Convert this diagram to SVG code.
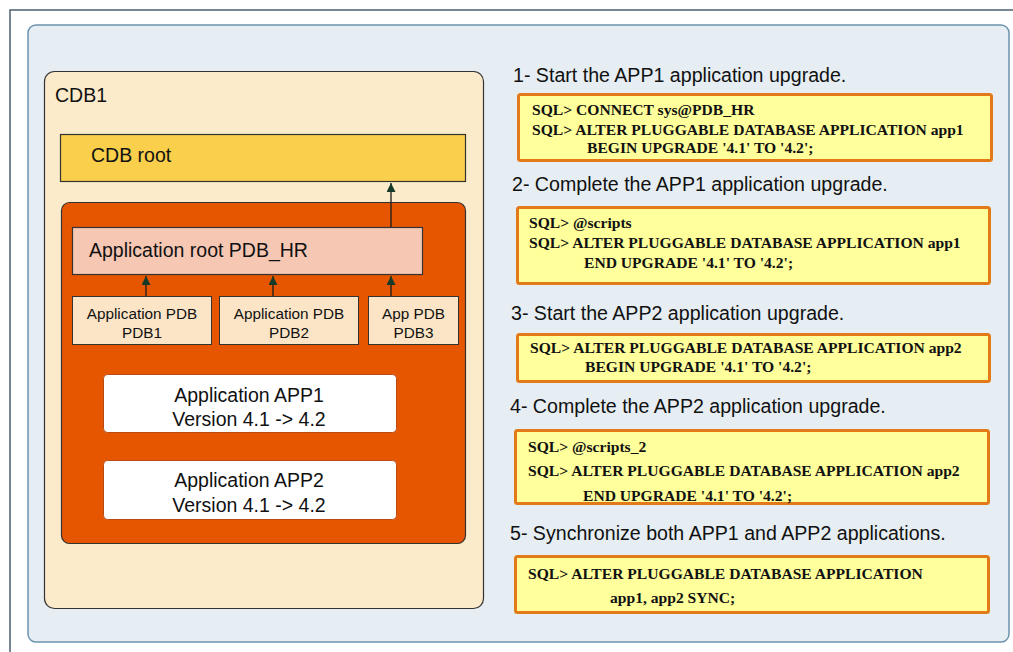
<svg xmlns="http://www.w3.org/2000/svg" width="1013" height="652" viewBox="0 0 1013 652">
<defs>
<style>
.sans{font-family:"Liberation Sans",Arial,sans-serif;fill:#111}
.t19{font-size:19.5px}
.t15{font-size:15.3px}
.step{font-family:"Liberation Sans",Arial,sans-serif;font-size:19.6px;fill:#111}
.sql{font-family:"Liberation Serif","Times New Roman",serif;font-size:15.6px;font-weight:bold;fill:#111}
.sqlbox{fill:#ffff9c;stroke:#e27b17;stroke-width:3}
.pdb{fill:#fbe5c6;stroke:#333;stroke-width:1}
.app{fill:#fff;stroke:#b94a12;stroke-width:1}
.conn{stroke:#1b1b1b;stroke-width:1.3;fill:none}
</style>
<marker id="ah" viewBox="0 0 10 10" refX="10" refY="5" markerWidth="9" markerHeight="9" markerUnits="userSpaceOnUse" orient="auto">
<path d="M0,0 L10,5 L0,10 z" fill="#163a2a"/>
</marker>
</defs>
<rect width="1013" height="652" fill="#fff"/>
<path d="M10,652 L10,10 L1013,10" fill="none" stroke="#4b5f6e" stroke-width="1.5"/>
<rect id="panel" x="28" y="25" width="981" height="617" rx="8" fill="#e6eef3" stroke="#6c93ad" stroke-width="1.5"/>
<g id="cdb1">
<rect x="44.5" y="71.5" width="439" height="537" rx="10" fill="#fbebca" stroke="#333" stroke-width="1.2"/>
<text class="sans t19" x="55" y="102">CDB1</text>
</g>
<g id="cdbroot">
<rect x="60.5" y="134.5" width="405" height="47" fill="#f9cf4b" stroke="#333" stroke-width="1.2"/>
<text class="sans t19" x="91" y="162">CDB root</text>
</g>
<g id="appcontainer">
<rect x="61.5" y="202.5" width="404" height="341" rx="8" fill="#e65600" stroke="#333" stroke-width="1.2"/>
</g>
<g id="approot">
<rect x="72.5" y="227.5" width="350" height="47" fill="#f6c7b3" stroke="#333" stroke-width="1.2"/>
<text class="sans t19" x="89" y="257">Application root PDB_HR</text>
</g>
<g id="pdb1">
<rect class="pdb" x="72.5" y="296.5" width="139" height="48"/>
<text class="sans t15" text-anchor="middle" x="142" y="319">Application PDB</text>
<text class="sans t15" text-anchor="middle" x="142" y="338">PDB1</text>
</g>
<g id="pdb2">
<rect class="pdb" x="219.5" y="296.5" width="139" height="48"/>
<text class="sans t15" text-anchor="middle" x="289" y="319">Application PDB</text>
<text class="sans t15" text-anchor="middle" x="289" y="338">PDB2</text>
</g>
<g id="pdb3">
<rect class="pdb" x="368.5" y="296.5" width="90" height="48"/>
<text class="sans t15" text-anchor="middle" x="413.5" y="319">App PDB</text>
<text class="sans t15" text-anchor="middle" x="413.5" y="338">PDB3</text>
</g>
<g id="app1">
<rect class="app" x="103.5" y="374.5" width="293" height="58" rx="4"/>
<text class="sans t19" text-anchor="middle" x="249" y="402">Application APP1</text>
<text class="sans t19" text-anchor="middle" x="249" y="426">Version 4.1 -&gt; 4.2</text>
</g>
<g id="app2">
<rect class="app" x="103.5" y="460.5" width="293" height="59" rx="4"/>
<text class="sans t19" text-anchor="middle" x="249" y="487">Application APP2</text>
<text class="sans t19" text-anchor="middle" x="249" y="512">Version 4.1 -&gt; 4.2</text>
</g>
<g id="connectors">
<line class="conn" x1="146" y1="296" x2="146" y2="276" marker-end="url(#ah)"/>
<line class="conn" x1="273" y1="296" x2="273" y2="276" marker-end="url(#ah)"/>
<line class="conn" x1="391" y1="296" x2="391" y2="276" marker-end="url(#ah)"/>
<line class="conn" x1="391" y1="227" x2="391" y2="183" marker-end="url(#ah)"/>
</g>
<g id="step1">
<text class="step" x="513" y="82">1- Start the APP1 application upgrade.</text>
<rect class="sqlbox" x="518.5" y="94.5" width="473" height="66" rx="2"/>
<text class="sql" x="532" y="115">SQL&gt; CONNECT sys@PDB_HR</text>
<text class="sql" x="532" y="135">SQL&gt; ALTER PLUGGABLE DATABASE APPLICATION app1</text>
<text class="sql" x="587" y="153">BEGIN UPGRADE '4.1' TO '4.2';</text>
</g>
<g id="step2">
<text class="step" x="512" y="191">2- Complete the APP1 application upgrade.</text>
<rect class="sqlbox" x="517.5" y="207.5" width="472" height="76" rx="2"/>
<text class="sql" x="529" y="228">SQL&gt; @scripts</text>
<text class="sql" x="529" y="248">SQL&gt; ALTER PLUGGABLE DATABASE APPLICATION app1</text>
<text class="sql" x="584" y="268">END UPGRADE '4.1' TO '4.2';</text>
</g>
<g id="step3">
<text class="step" x="511" y="320">3- Start the APP2 application upgrade.</text>
<rect class="sqlbox" x="517.5" y="334.5" width="472" height="47" rx="2"/>
<text class="sql" x="530" y="353">SQL&gt; ALTER PLUGGABLE DATABASE APPLICATION app2</text>
<text class="sql" x="585" y="372">BEGIN UPGRADE '4.1' TO '4.2';</text>
</g>
<g id="step4">
<text class="step" x="510" y="413">4- Complete the APP2 application upgrade.</text>
<rect class="sqlbox" x="515.5" y="430.5" width="473" height="73" rx="2"/>
<text class="sql" x="528" y="452">SQL&gt; @scripts_2</text>
<text class="sql" x="528" y="476">SQL&gt; ALTER PLUGGABLE DATABASE APPLICATION app2</text>
<text class="sql" x="583" y="501">END UPGRADE '4.1' TO '4.2';</text>
</g>
<g id="step5">
<text class="step" x="510" y="540">5- Synchronize both APP1 and APP2 applications.</text>
<rect class="sqlbox" x="515.5" y="556.5" width="473" height="56" rx="2"/>
<text class="sql" x="528" y="579">SQL&gt; ALTER PLUGGABLE DATABASE APPLICATION</text>
<text class="sql" x="610" y="603">app1, app2 SYNC;</text>
</g>
</svg>
